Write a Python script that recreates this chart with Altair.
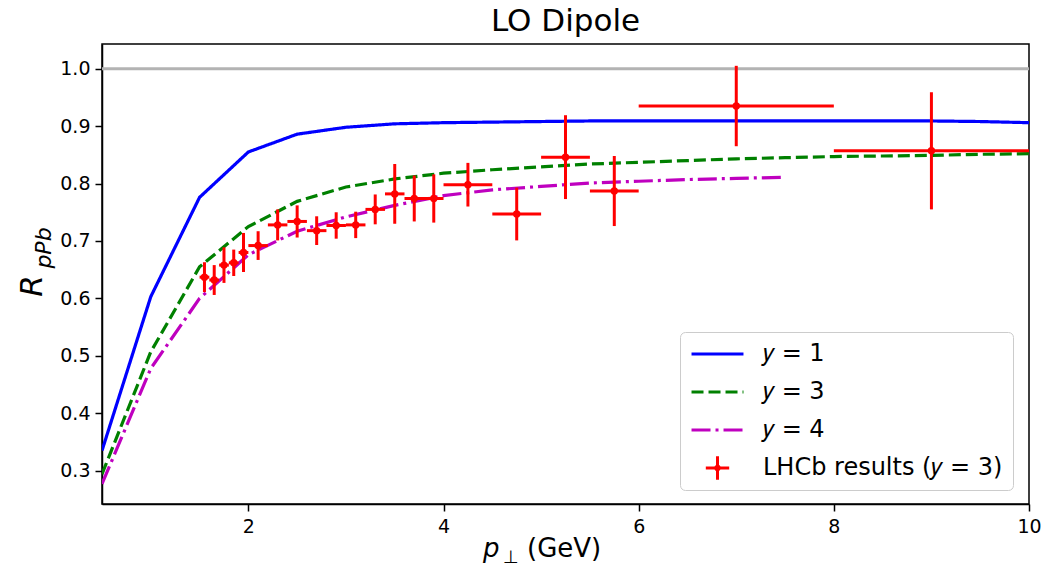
import altair as alt
import pandas as pd

# ---- theory curves (LO dipole) ----
x_theory = [0.5, 1.0, 1.5, 2.0, 2.5, 3.0, 3.5, 4.0, 4.5, 5.0,
            5.5, 6.0, 6.5, 7.0, 7.5, 8.0, 8.5, 9.0, 9.5, 10.0]
r_y1 = [0.335, 0.603, 0.776, 0.855, 0.886, 0.898, 0.904, 0.906, 0.907, 0.908,
        0.909, 0.909, 0.909, 0.909, 0.909, 0.909, 0.909, 0.909, 0.908, 0.906]
r_y3 = [0.294, 0.507, 0.655, 0.725, 0.769, 0.794, 0.808, 0.818, 0.824, 0.829,
        0.834, 0.837, 0.840, 0.843, 0.845, 0.847, 0.848, 0.849, 0.851, 0.852]
x_y4 = [0.5, 1.0, 1.5, 2.0, 2.5, 3.0, 3.5, 4.0, 4.5, 5.0, 5.5, 6.0, 6.5, 7.0, 7.5]
r_y4 = [0.277, 0.478, 0.600, 0.676, 0.717, 0.742, 0.762, 0.779, 0.789, 0.795,
        0.801, 0.804, 0.807, 0.809, 0.811]

# ---- LHCb data (y = 3) ----
lhcb_pt = [1.55, 1.65, 1.75, 1.85, 1.95, 2.1, 2.3, 2.5, 2.7, 2.9, 3.1, 3.3, 3.5,
           3.7, 3.9, 4.25, 4.75, 5.25, 5.75, 7.0, 9.0]
lhcb_r = [0.637, 0.632, 0.658, 0.662, 0.680, 0.692, 0.728, 0.734, 0.718, 0.727,
          0.728, 0.755, 0.782, 0.774, 0.774, 0.798, 0.747, 0.846, 0.787, 0.935, 0.857]
lhcb_err = [0.026, 0.026, 0.031, 0.023, 0.034, 0.025, 0.027, 0.028, 0.025, 0.023,
            0.023, 0.026, 0.052, 0.040, 0.042, 0.038, 0.046, 0.073, 0.061, 0.070, 0.102]
lhcb_halfbin = [0.05, 0.05, 0.05, 0.05, 0.05, 0.1, 0.1, 0.1, 0.1, 0.1, 0.1, 0.1,
                0.1, 0.1, 0.1, 0.25, 0.25, 0.25, 0.25, 1.0, 1.0]

labels = ["𝑦 = 1", "𝑦 = 3", "𝑦 = 4", "LHCb results (𝑦 = 3)"]
colors = ["#0000ff", "#008000", "#bf00bf", "#ff0000"]
dashes = [[1, 0], [12, 5], [19, 5, 3, 5], [1, 0]]
CROSS = ("M-0.45,0H0.45M0,-0.45V0.45"
         "M-0.07,0A0.07,0.07 0 1,0 0.07,0A0.07,0.07 0 1,0 -0.07,0")
shapes = ["stroke", "stroke", "stroke", CROSS]

curves = pd.concat([
    pd.DataFrame({"pt": x_theory, "R": r_y1, "series": labels[0]}),
    pd.DataFrame({"pt": x_theory, "R": r_y3, "series": labels[1]}),
    pd.DataFrame({"pt": x_y4, "R": r_y4, "series": labels[2]}),
], ignore_index=True)

pts = pd.DataFrame({"pt": lhcb_pt, "R": lhcb_r, "err": lhcb_err, "hb": lhcb_halfbin})
pts["lo"] = pts["R"] - pts["err"]
pts["hi"] = pts["R"] + pts["err"]
pts["xlo"] = pts["pt"] - pts["hb"]
pts["xhi"] = pts["pt"] + pts["hb"]
pts["series"] = labels[3]

FONT = "DejaVu Sans"

leg = alt.Legend(title=None, orient="none", legendX=578, legendY=288,
                 labelFont=FONT, labelFontSize=24, labelColor="black",
                 labelLimit=400,
                 symbolSize=2700, symbolStrokeWidth=3, symbolOpacity=1,
                 clipHeight=24, rowPadding=14, padding=10,
                 strokeColor="#cccccc", fillColor="white", cornerRadius=5,
                 labelOffset=18)

color = alt.Color("series:N", scale=alt.Scale(domain=labels, range=colors), legend=leg)
dash = alt.StrokeDash("series:N", scale=alt.Scale(domain=labels, range=dashes), legend=leg)
shape = alt.Shape("series:N", scale=alt.Scale(domain=labels, range=shapes), legend=leg)

xscale = alt.Scale(domain=[0.5, 10], nice=False, zero=False)
yscale = alt.Scale(domain=[0.242, 1.043], nice=False, zero=False)

xaxis = alt.Axis(values=[2, 4, 6, 8, 10], format="d", title=None, grid=False,
                 labelFontSize=19, labelFont=FONT, labelColor="black",
                 tickSize=7, tickWidth=1.5, tickColor="black",
                 domainColor="black", domainWidth=1.5, labelPadding=6,
                 labelFlush=False)
yaxis = alt.Axis(values=[0.3, 0.4, 0.5, 0.6, 0.7, 0.8, 0.9, 1.0], format=".1f",
                 title=None, grid=False,
                 labelFontSize=19, labelFont=FONT, labelColor="black",
                 tickSize=7, tickWidth=1.5, tickColor="black",
                 domainColor="black", domainWidth=1.5, labelPadding=5,
                 labelFlush=False)

ref = alt.Chart(pd.DataFrame({"R": [1.0]})).mark_rule(
    color="#b3b3b3", strokeWidth=3).encode(
    y=alt.Y("R:Q", scale=yscale, axis=yaxis))

lines = alt.Chart(curves).mark_line(strokeWidth=3.2, clip=True).encode(
    x=alt.X("pt:Q", scale=xscale, axis=xaxis),
    y=alt.Y("R:Q", scale=yscale, axis=yaxis),
    color=color, strokeDash=dash, order="pt:Q")

vbars = alt.Chart(pts).mark_rule(strokeWidth=3, clip=True).encode(
    x=alt.X("pt:Q", scale=xscale), y=alt.Y("lo:Q", scale=yscale), y2="hi:Q",
    color=color)

hbars = alt.Chart(pts).mark_rule(strokeWidth=3, clip=True).encode(
    x=alt.X("xlo:Q", scale=xscale), x2="xhi:Q", y=alt.Y("R:Q", scale=yscale),
    color=color)

dots = alt.Chart(pts).mark_circle(size=55, opacity=1, clip=True).encode(
    x=alt.X("pt:Q", scale=xscale), y=alt.Y("R:Q", scale=yscale), color=color)

# legend key carrier (invisible): gives the LHCb legend entry its error-bar cross
keys = alt.Chart(pts).mark_point(opacity=0, filled=False, clip=True).encode(
    x=alt.X("pt:Q", scale=xscale), y=alt.Y("R:Q", scale=yscale),
    color=color, shape=shape)

txt = lambda s, **kw: alt.Chart(pd.DataFrame({"t": [s]})).mark_text(
    font=FONT, color="black", **kw).encode(text="t:N")

ytitle_R = txt("R", fontSize=31, fontStyle="italic", angle=270,
               align="center", baseline="middle").encode(
    x=alt.value(-69), y=alt.value(242))
ytitle_sub = txt("pPb", fontSize=22, fontStyle="italic", angle=270,
                 align="center", baseline="middle").encode(
    x=alt.value(-58), y=alt.value(204))
xtitle_p = txt("p", fontSize=26, fontStyle="italic", align="left",
               baseline="alphabetic").encode(x=alt.value(381), y=alt.value(513))
xtitle_sub = txt("⊥", fontSize=18, align="left",
                 baseline="alphabetic").encode(x=alt.value(401), y=alt.value(519))
xtitle_unit = txt("(GeV)", fontSize=26, align="left",
                  baseline="alphabetic").encode(x=alt.value(425), y=alt.value(513))

chart = alt.layer(
    ref, lines, vbars, hbars, dots, keys,
    ytitle_R, ytitle_sub, xtitle_p, xtitle_sub, xtitle_unit
).properties(
    width=927, height=460,
    background="white",
    title=alt.TitleParams("LO Dipole", font=FONT, fontSize=31, fontWeight="normal",
                          color="black", anchor="middle", baseline="alphabetic",
                          offset=-18),
    autosize=alt.AutoSizeParams(type="none"),
    padding={"left": 102, "top": 44, "right": 14, "bottom": 63},
).configure_view(
    stroke="black", strokeWidth=1.5
)

chart.save("out.html", embed_options={"renderer": "svg", "actions": False})
